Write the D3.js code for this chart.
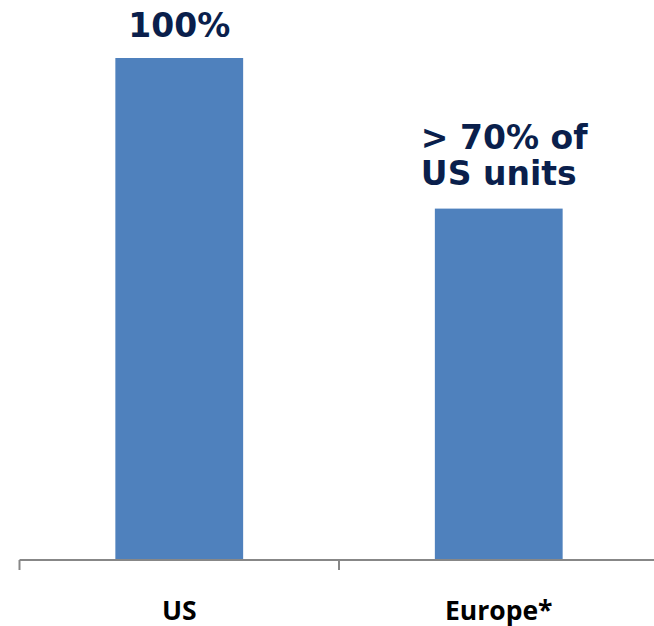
<!DOCTYPE html>
<html>
<head>
<meta charset="utf-8">
<script src="https://cdn.jsdelivr.net/npm/d3@7"></script>
<style>
  html, body { margin: 0; padding: 0; background: #fff; }
  svg { display: block; }
</style>
</head>
<body>
<svg id="chart" width="654" height="626"></svg>
<script>
// Unit volume relative to the US
const regions = ["US", "Europe*"];
const shares = [100, 70];
const valueLabels = [["100%"], ["> 70% of", "US units"]];

const svg = d3.select("#chart");

const x = d3.scaleBand()
  .domain(regions)
  .range([19.5, 658.5])
  .paddingInner(0.6)
  .paddingOuter(0.3);

const y = d3.scaleLinear()
  .domain([0, 100])
  .range([560, 58]);

// Bars
svg.selectAll("rect.bar")
  .data(regions)
  .join("rect")
  .attr("class", "bar")
  .attr("x", d => x(d))
  .attr("width", x.bandwidth())
  .attr("y", (d, i) => y(shares[i]))
  .attr("height", (d, i) => y(0) - y(shares[i]))
  .attr("fill", "#4f81bd");

// Category axis with boundary ticks between bands
const bandStep = x.step();
const boundaries = [0, 1, 2].map(i => 19.5 + i * bandStep);
const axisG = svg.append("g");
axisG.append("line")
  .attr("x1", 19.5).attr("x2", 660)
  .attr("y1", 560).attr("y2", 560)
  .attr("stroke", "#878787").attr("stroke-width", 2);
axisG.selectAll("line.tick")
  .data(boundaries)
  .join("line")
  .attr("class", "tick")
  .attr("x1", d => d).attr("x2", d => d)
  .attr("y1", 560).attr("y2", 570)
  .attr("stroke", "#878787").attr("stroke-width", 2);

// Category labels
svg.selectAll("text.cat")
  .data(regions)
  .join("text")
  .attr("class", "cat")
  .attr("x", d => x(d) + x.bandwidth() / 2)
  .attr("y", 619.5)
  .attr("text-anchor", "middle")
  .attr("font-family", "'Open Sans', sans-serif")
  .attr("font-weight", "bold")
  .attr("font-size", 26.5)
  .attr("fill", "#000")
  .text(d => d);

// Value labels above bars
const lbl = svg.append("g")
  .attr("font-family", "'DejaVu Sans', Verdana, sans-serif")
  .attr("font-weight", "bold")
  .attr("font-size", 33)
  .attr("fill", "#0a1f4c");

// US: centred above bar
lbl.append("text")
  .attr("x", x(regions[0]) + x.bandwidth() / 2)
  .attr("y", y(shares[0]) - 21.5)
  .attr("text-anchor", "middle")
  .text(valueLabels[0][0]);

// Europe: two left-aligned lines
const eu = lbl.append("text")
  .attr("x", x(regions[1]) - 14)
  .attr("y", y(shares[1]) - 60);
eu.selectAll("tspan")
  .data(valueLabels[1])
  .join("tspan")
  .attr("x", x(regions[1]) - 14)
  .attr("dy", (d, i) => i === 0 ? 0 : 36)
  .text(d => d);
</script>
</body>
</html>
